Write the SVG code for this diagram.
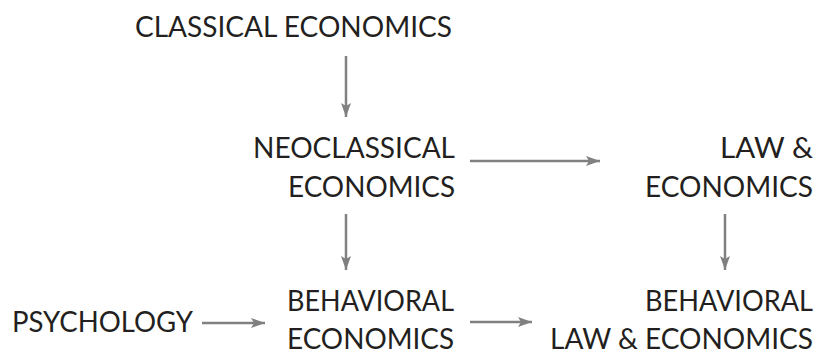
<svg xmlns="http://www.w3.org/2000/svg" width="819" height="352" viewBox="0 0 819 352">
<defs>
<style>
text{font-family:Lato,"Open Sans","Liberation Sans",sans-serif;font-size:28px;fill:#231f20;}
.r{text-anchor:end;}
.c line{stroke:#808080;stroke-width:2.5;fill:none;}
</style>
<marker id="ah" markerUnits="userSpaceOnUse" markerWidth="16" markerHeight="12" refX="14" refY="5" orient="auto" viewBox="0 0 16 10">
<path d="M0,0 L14,5 L0,10 L3,5 Z" fill="#808080"/>
</marker>
</defs>
<g id="classical"><text x="135" y="37" textLength="317" lengthAdjust="spacingAndGlyphs">CLASSICAL ECONOMICS</text></g>
<g id="neoclassical"><text class="r" x="455" y="158" textLength="202" lengthAdjust="spacingAndGlyphs">NEOCLASSICAL</text><text class="r" x="455" y="197" textLength="167" lengthAdjust="spacingAndGlyphs">ECONOMICS</text></g>
<g id="law"><text class="r" x="813" y="158" textLength="93" lengthAdjust="spacingAndGlyphs">LAW &amp;</text><text class="r" x="813" y="197" textLength="168" lengthAdjust="spacingAndGlyphs">ECONOMICS</text></g>
<g id="psychology"><text x="12" y="332" textLength="181" lengthAdjust="spacingAndGlyphs">PSYCHOLOGY</text></g>
<g id="behavioral"><text class="r" x="454" y="311" textLength="167" lengthAdjust="spacingAndGlyphs">BEHAVIORAL</text><text class="r" x="454" y="349" textLength="167" lengthAdjust="spacingAndGlyphs">ECONOMICS</text></g>
<g id="behavioral-law"><text class="r" x="813" y="311" textLength="168" lengthAdjust="spacingAndGlyphs">BEHAVIORAL</text><text class="r" x="813" y="349" textLength="263" lengthAdjust="spacingAndGlyphs">LAW &amp; ECONOMICS</text></g>
<g id="connectors" class="c">
<line x1="346" y1="56" x2="346" y2="117" marker-end="url(#ah)"/>
<line x1="470" y1="161" x2="600" y2="161" marker-end="url(#ah)"/>
<line x1="346" y1="214" x2="346" y2="270" marker-end="url(#ah)"/>
<line x1="725" y1="214" x2="725" y2="270" marker-end="url(#ah)"/>
<line x1="202" y1="323" x2="265" y2="323" marker-end="url(#ah)"/>
<line x1="470" y1="322" x2="532" y2="322" marker-end="url(#ah)"/>
</g>
</svg>
